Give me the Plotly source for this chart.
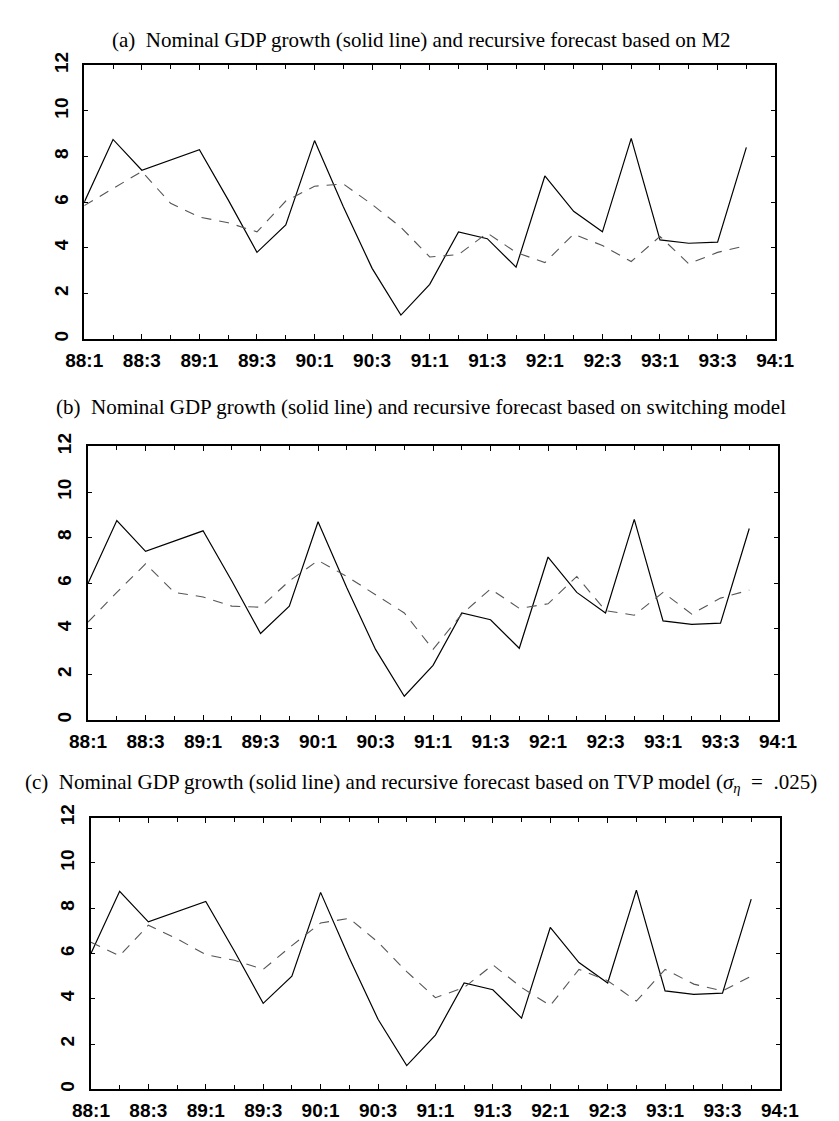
import plotly.graph_objects as go

# ---- data ----
quarters = ["88:1", "88:2", "88:3", "88:4", "89:1", "89:2", "89:3", "89:4",
            "90:1", "90:2", "90:3", "90:4", "91:1", "91:2", "91:3", "91:4",
            "92:1", "92:2", "92:3", "92:4", "93:1", "93:2", "93:3", "93:4"]
tick_labels = ["88:1", "88:3", "89:1", "89:3", "90:1", "90:3", "91:1",
               "91:3", "92:1", "92:3", "93:1", "93:3", "94:1"]
y_ticks = [0, 2, 4, 6, 8, 10, 12]

gdp_growth = [6.0, 8.75, 7.4, 7.85, 8.3, 6.1, 3.8, 5.0,
              8.7, 5.8, 3.1, 1.05, 2.4, 4.7, 4.4, 3.15,
              7.15, 5.6, 4.7, 8.8, 4.35, 4.2, 4.25, 8.4]

fc_m2 = [5.85, 6.6, 7.35, 5.95, 5.35, 5.1, 4.7, 6.05,
         6.7, 6.8, 5.9, 4.9, 3.6, 3.7, 4.65, 3.8,
         3.35, 4.6, 4.1, 3.4, 4.5, 3.3, 3.8, 4.1]

fc_switch = [4.3, 5.6, 6.85, 5.6, 5.4, 5.0, 4.95, 6.1,
             7.0, 6.3, 5.5, 4.7, 3.1, 4.65, 5.75, 4.9,
             5.1, 6.3, 4.8, 4.6, 5.6, 4.65, 5.35, 5.7]

fc_tvp = [6.5, 5.9, 7.25, 6.65, 5.95, 5.7, 5.3, 6.35,
          7.35, 7.55, 6.5, 5.2, 4.05, 4.5, 5.5, 4.5,
          3.7, 5.3, 4.8, 3.9, 5.3, 4.65, 4.35, 5.0]

titles = [
    "(a)  Nominal GDP growth (solid line) and recursive forecast based on M2",
    "(b)  Nominal GDP growth (solid line) and recursive forecast based on switching model",
    "(c)  Nominal GDP growth (solid line) and recursive forecast based on TVP model "
    "(<i>σ</i><sub><i>η</i></sub>  =  .025)",
]
forecasts = [fc_m2, fc_switch, fc_tvp]

# ---- layout geometry (page pixels; the page body adds an 8px margin) ----
PAGE_W, PAGE_H = 839, 1121
OFF = 8
W, H = PAGE_W - OFF, PAGE_H - OFF
panels = [  # left, right, top, bottom, title_y  (page coordinates)
    (68, 792, 53, 331, 27),
    (72, 795, 440, 718, 400),
    (75, 797, 817, 1093, 782),
]

xs = list(range(len(quarters)))
tick_pos = list(range(0, len(quarters) + 1, 2))

fig = go.Figure()
layout = dict(
    width=W, height=H,
    margin=dict(l=0, r=0, t=0, b=0),
    paper_bgcolor="white", plot_bgcolor="white",
    showlegend=False,
    annotations=[],
)

tickfont = dict(family="Liberation Sans", size=19, color="black", weight="bold")


def px_x(v):
    return (v - OFF) / W


def px_y(v):
    return 1 - (v - OFF) / H


for i, (l, r, t, b, ty) in enumerate(panels):
    n = "" if i == 0 else str(i + 1)
    xa, ya = "x" + n, "y" + n
    fig.add_trace(go.Scatter(x=xs, y=gdp_growth, mode="lines",
                             line=dict(color="black", width=1.2),
                             xaxis=xa, yaxis=ya))
    fig.add_trace(go.Scatter(x=xs, y=forecasts[i], mode="lines",
                             line=dict(color="#555555", width=1.1, dash="10px,8px"),
                             xaxis=xa, yaxis=ya))
    layout["xaxis" + n] = dict(
        domain=[px_x(l), px_x(r)], anchor=ya, range=[0, 24],
        tickvals=tick_pos, ticktext=tick_labels,
        showgrid=False, zeroline=False,
        showline=True, linecolor="black", linewidth=2, mirror="allticks",
        ticks="inside", ticklen=5, tickcolor="black", tickwidth=1.2,
        minor=dict(dtick=1, tick0=0, ticks="inside", ticklen=4,
                   tickcolor="black", tickwidth=1, showgrid=False),
        tickfont=tickfont, ticklabelstandoff=3,
    )
    layout["yaxis" + n] = dict(
        domain=[px_y(b), px_y(t)], anchor=xa, range=[0, 12],
        tickvals=y_ticks, ticktext=[str(v) for v in y_ticks],
        tickangle=-90,
        showgrid=False, zeroline=False,
        showline=True, linecolor="black", linewidth=2, mirror="allticks",
        ticks="inside", ticklen=4, tickcolor="black", tickwidth=1,
        tickfont=tickfont, ticklabelstandoff=7,
    )
    layout["annotations"].append(dict(
        text=titles[i], x=px_x(421), y=px_y(ty), xref="paper", yref="paper",
        xanchor="center", yanchor="middle", showarrow=False,
        font=dict(family="Liberation Serif", size=21, color="black"),
    ))

fig.update_layout(**layout)
fig.write_html("out.html")
